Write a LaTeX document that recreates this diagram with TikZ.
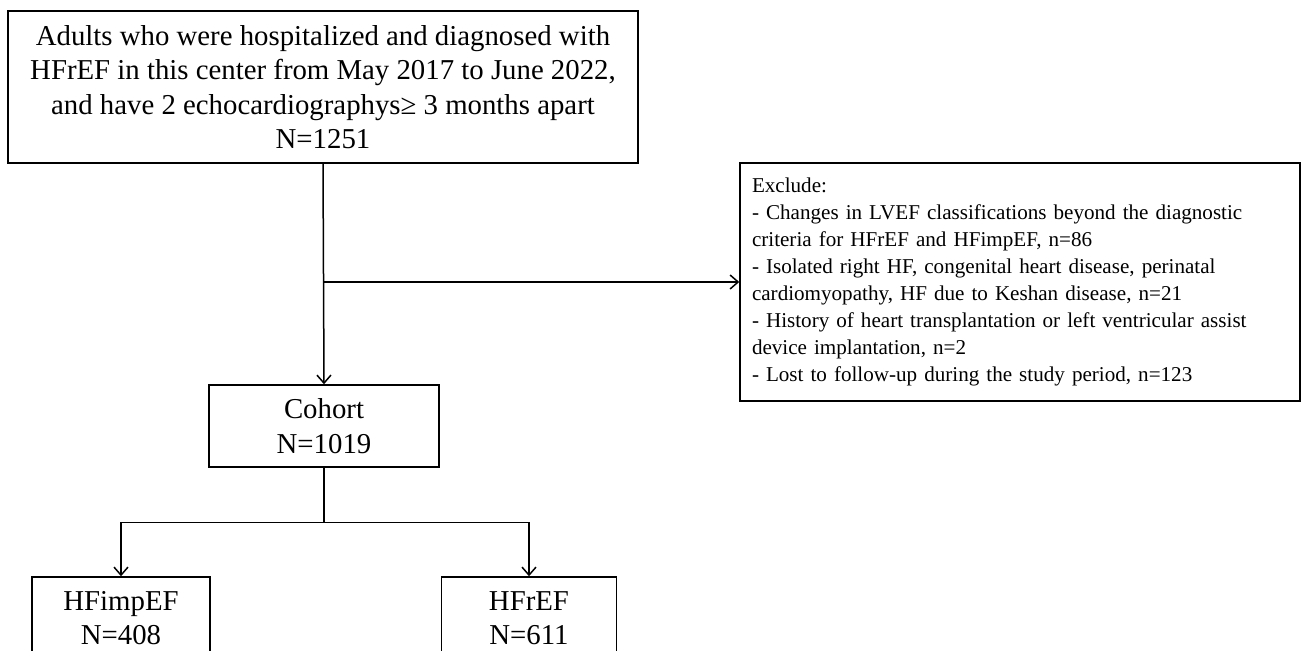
\documentclass[tikz,border=0pt]{standalone}
\usepackage{fontspec}
\setmainfont{Liberation Serif}
\usetikzlibrary{arrows.meta, positioning, calc}

\tikzset{
    box/.style={draw, line width=0.75pt, align=center, inner sep=0pt,
        font=\fontsize{14.4}{17.25}\selectfont},
    exclbox/.style={draw, line width=0.75pt, align=left, inner xsep=6pt,
        text width=268pt, minimum height=119pt,
        font=\fontsize{10.55}{13.45}\selectfont},
    flow/.style={line width=0.75pt, -{Straight Barb[length=4pt, width=7pt]}}
}

\begin{document}
\begin{tikzpicture}[x=0.5pt, y=-0.5pt]
    % page frame (pixel units, y downwards)
    \useasboundingbox (0,0) rectangle (1303,651);

    % Boxes
    \node[box, minimum width=315pt, minimum height=76pt] (all) at (323,87)
        {Adults who were hospitalized and diagnosed with\\
         HFrEF in this center from May 2017 to June 2022,\\
         and have 2 echocardiographys≥ 3 months apart\\
         N=1251};

    \node[exclbox] (excl) at (1020,282)
        {Exclude:\\
         - Changes in LVEF classifications beyond the diagnostic\\
         criteria for HFrEF and HFimpEF, n=86\\
         - Isolated right HF, congenital heart disease, perinatal\\
         cardiomyopathy, HF due to Keshan disease, n=21\\
         - History of heart transplantation or left ventricular assist\\
         device implantation, n=2\\
         - Lost to follow-up during the study period, n=123};

    \node[box, minimum width=115pt, minimum height=41pt] (cohort) at (324,426)
        {Cohort\\N=1019};

    % Groups (cut by the page edge)
    \node[box, minimum width=89pt, minimum height=41pt] (impef) at (121,618)
        {HFimpEF\\N=408};
    \node[box, minimum width=87.5pt, minimum height=41pt] (ref) at (529,618)
        {HFrEF\\N=611};

    % Connectors
    \draw[flow] (all.south) -- (cohort.north);
    \coordinate (split) at (all.south |- excl.west);
    \draw[flow] (split) -- (excl.west);

    \coordinate (fork) at ($(cohort.south)+(0,55)$);
    \draw[line width=0.75pt] (cohort.south) -- (fork);
    \draw[flow] (fork) -| (impef.north);
    \draw[flow] (fork) -| (ref.north);
\end{tikzpicture}
\end{document}
